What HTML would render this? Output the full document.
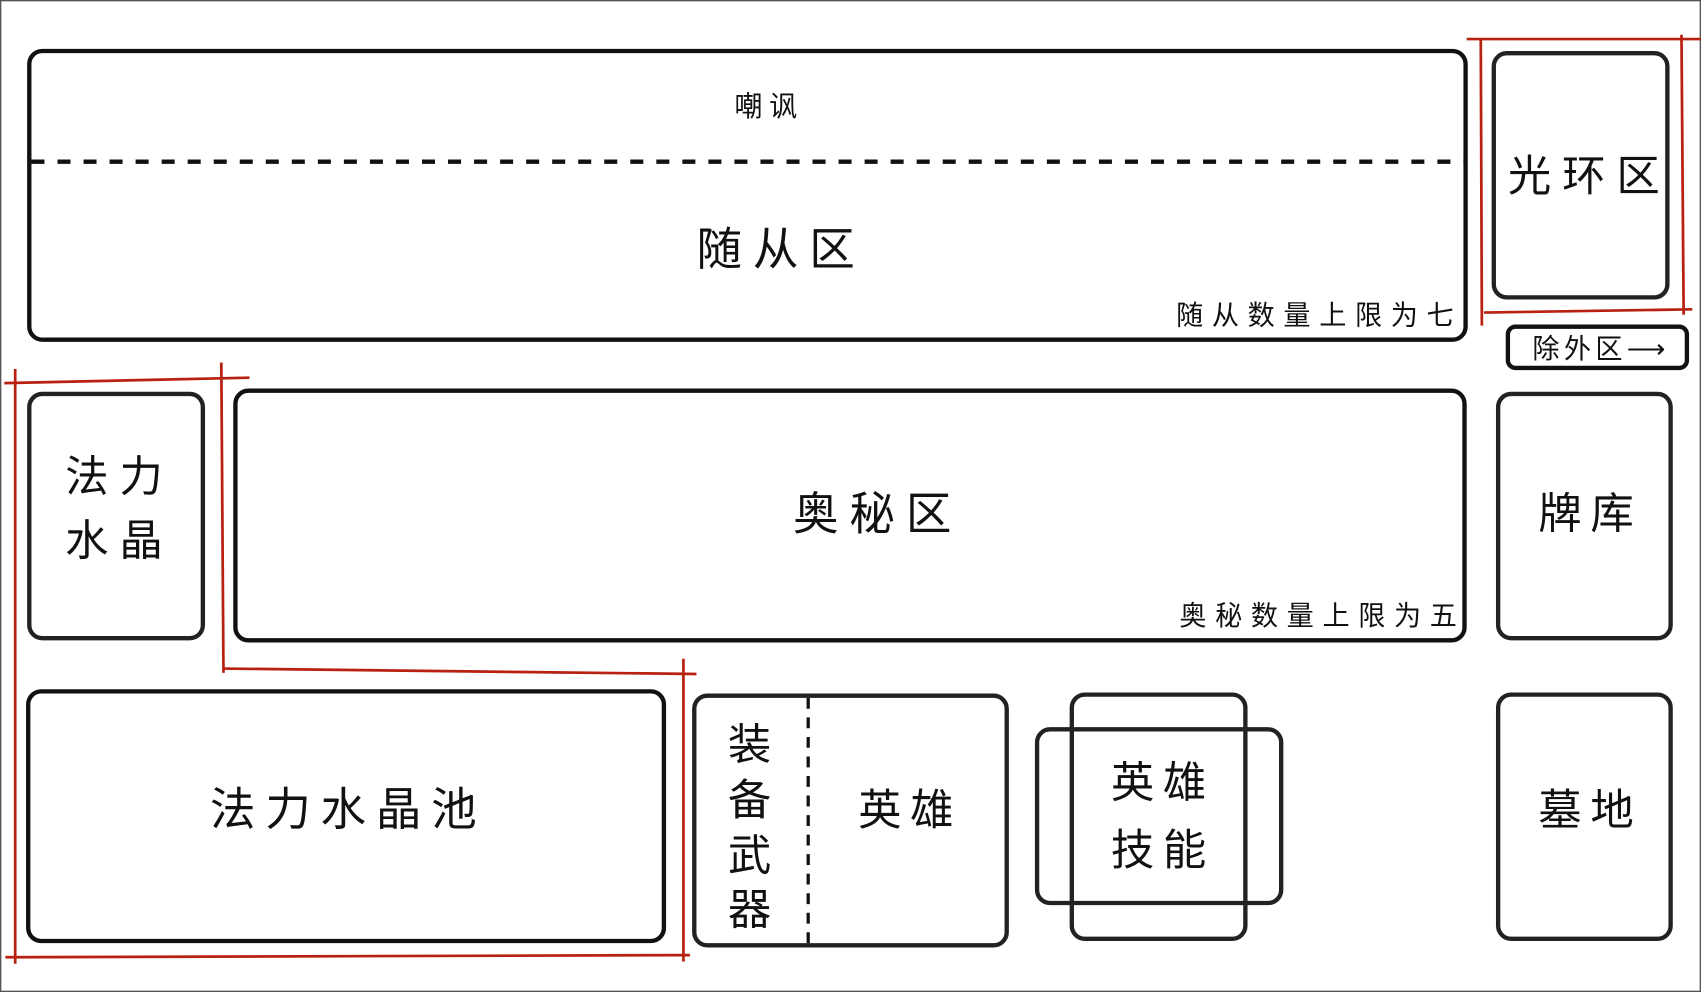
<!DOCTYPE html>
<html><head><meta charset="utf-8"><style>
html,body{margin:0;padding:0;background:#fff;}
svg{display:block;}
text{font-family:"Liberation Sans","Noto Sans CJK SC",sans-serif;fill:#111;}
</style></head><body>
<svg width="1701" height="992" viewBox="0 0 1568 914" preserveAspectRatio="none" xmlns="http://www.w3.org/2000/svg">
<rect x="0.5" y="0.5" width="1567" height="913" fill="#fff" stroke="#555" stroke-width="1.5"/>
<g fill="none" stroke="#111" stroke-width="4">
<rect x="27" y="47" width="1324" height="266" rx="12"/>
<rect x="1377" y="49" width="160" height="225" rx="12" stroke="#222"/>
<rect x="1390" y="301" width="165" height="38" rx="7"/>
<rect x="27" y="363" width="160" height="225" rx="12" stroke="#222"/>
<rect x="217" y="360" width="1133" height="230" rx="12"/>
<rect x="1381" y="363" width="159" height="225" rx="12" stroke="#222"/>
<rect x="26" y="637" width="586" height="230" rx="12"/>
<rect x="640" y="641" width="288" height="230" rx="12" stroke="#222"/>
<rect x="988" y="640" width="160" height="225" rx="12" stroke="#222"/>
<rect x="956" y="672" width="225" height="160" rx="12" stroke="#222"/>
<rect x="1381" y="640" width="159" height="225" rx="12" stroke="#222"/>
<line x1="29" y1="149" x2="1350" y2="149" stroke-dasharray="12,12"/>
<line x1="745" y1="643" x2="745" y2="870" stroke-width="3" stroke-dasharray="10,8"/>
</g>
<g stroke="#b82010" stroke-width="2.5" fill="none">
<line x1="1352" y1="36" x2="1568" y2="36"/>
<line x1="1365" y1="36" x2="1366" y2="300"/>
<line x1="1550" y1="32" x2="1552" y2="290"/>
<line x1="1368" y1="288" x2="1560" y2="285"/>
<line x1="4" y1="353" x2="230" y2="348"/>
<line x1="14" y1="340" x2="14" y2="888"/>
<line x1="204" y1="334" x2="206" y2="620"/>
<line x1="206" y1="616" x2="642" y2="621"/>
<line x1="630" y1="607" x2="630" y2="886"/>
<line x1="5" y1="882" x2="636" y2="880"/>
</g>
<g text-anchor="middle">
<text x="709" y="107" font-size="26" letter-spacing="6">嘲讽</text>
<text x="720" y="244" font-size="42" letter-spacing="10">随从区</text>
<text x="1348" y="299" font-size="25" text-anchor="end" letter-spacing="8">随从数量上限为七</text>
<text x="1465" y="176" font-size="40" letter-spacing="10">光环区</text>
<text x="1476" y="330" font-size="25" letter-spacing="4">除外区⟶</text>
<text x="110" y="453" font-size="40" letter-spacing="10">法力</text>
<text x="110" y="512" font-size="40" letter-spacing="10">水晶</text>
<text x="809" y="488" font-size="42" letter-spacing="10">奥秘区</text>
<text x="1351" y="576" font-size="25" text-anchor="end" letter-spacing="8">奥秘数量上限为五</text>
<text x="1466" y="487" font-size="40" letter-spacing="8">牌库</text>
<text x="321" y="760" font-size="42" letter-spacing="9">法力水晶池</text>
<text x="691" y="700" font-size="40">装</text>
<text x="691" y="751" font-size="40">备</text>
<text x="691" y="802" font-size="40">武</text>
<text x="691" y="852" font-size="40">器</text>
<text x="839" y="760" font-size="40" letter-spacing="8">英雄</text>
<text x="1072" y="735" font-size="40" letter-spacing="8">英雄</text>
<text x="1072" y="797" font-size="40" letter-spacing="8">技能</text>
<text x="1466" y="760" font-size="40" letter-spacing="8">墓地</text>
</g>
</svg>
</body></html>
